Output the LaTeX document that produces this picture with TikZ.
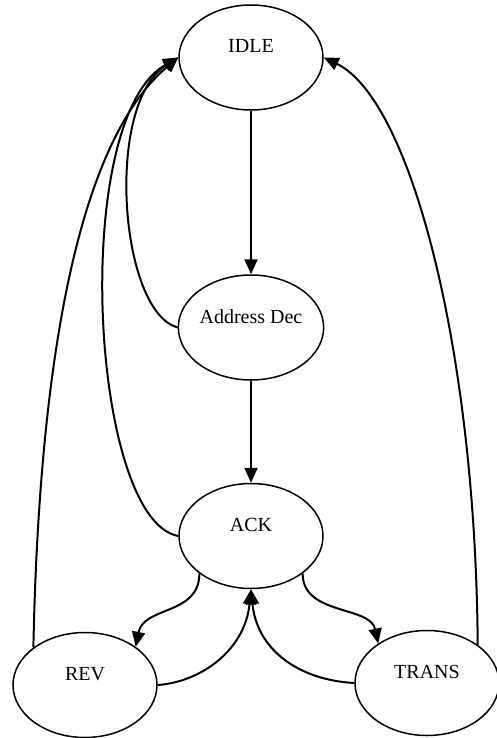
\documentclass[tikz,border=0pt]{standalone}
\usepackage{fontspec}
\setmainfont{Liberation Serif}
\usetikzlibrary{shapes.geometric,arrows.meta}
\begin{document}
\begin{tikzpicture}[x=1pt, y=-1pt,
state/.style={ellipse, draw, line width=1.5pt, minimum width=144pt, minimum height=105pt, inner sep=0pt, text height=14pt, text depth=23pt, font=\fontsize{20}{24}\selectfont},
link/.style={line width=2pt, -{Triangle[length=15pt,width=13pt]}}]
\useasboundingbox (0,0) rectangle (497,738);
\node[state] (idle) at (251,57.5) {IDLE};
\node[state] (addr) at (251,327.5) {Address Dec};
\node[state] (ack) at (251,536) {ACK};
\node[state] (rev) at (85,685) {REV};
\node[state] (trans) at (427,683) {TRANS};

\draw[link] (idle) -- (addr);
\draw[link] (addr) -- (ack);
\draw[link] (addr.west) .. controls +(-58,-16) and +(-74,47) .. (idle.west);
\draw[link] (ack.west) .. controls +(-88,-16) and +(-109,62) .. (idle.west);
\draw[link] (rev.144) .. controls +(5,-247) and +(-109,92) .. (idle.west);
\draw[link] (trans.37) .. controls +(-2,-295) and +(87,42) .. (idle.east);
\draw[link] (ack.216) .. controls +(0,42) and +(8,-41) .. (rev.37);
\draw[link] (ack.324) .. controls +(0,42) and +(-8,-38) .. (trans.141);
\draw[link] (rev.east) .. controls +(43,-3) and +(-6,61) .. (ack.south);
\draw[link] (trans.west) .. controls +(-55,-3) and +(6,61) .. (ack.south);
\end{tikzpicture}
\end{document}
